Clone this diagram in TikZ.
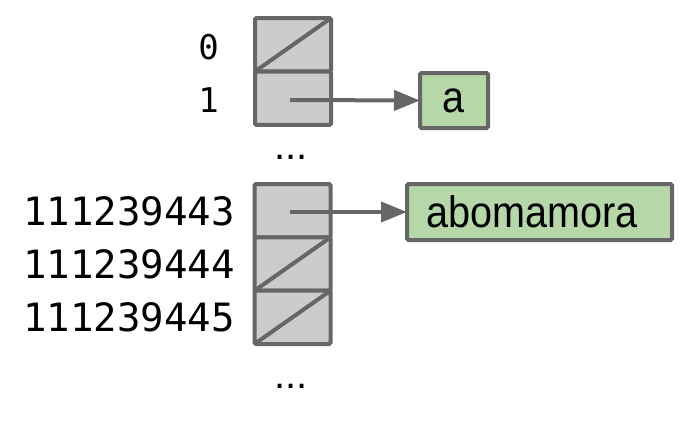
\documentclass[tikz,border=0pt]{standalone}
\usepackage{fontspec}
\setmainfont{Liberation Sans}
\newfontfamily\condsans[FakeStretch=0.9]{Liberation Sans}
\newfontfamily\monofont{DejaVu Sans Mono}
\usetikzlibrary{arrows.meta}
\definecolor{edgegray}{HTML}{666666}
\definecolor{cellgray}{HTML}{CCCCCC}
\definecolor{valgreen}{HTML}{B6D7A8}
\begin{document}
\begin{tikzpicture}[x=1pt,y=-1pt,
  cellbox/.style={draw=edgegray,fill=cellgray,line width=4pt,rounded corners=1.5pt,
    minimum width=76pt,minimum height=53.4pt,inner sep=0pt,outer sep=0pt},
  valbox/.style={draw=edgegray,fill=valgreen,line width=4pt,rounded corners=1.5pt,
    inner sep=0pt,outer sep=0pt,font=\condsans\fontsize{44}{52}\selectfont},
  nullslash/.style={draw=edgegray,line width=4pt},
  ptr/.style={draw=edgegray,line width=4pt,-{Triangle[length=26pt,width=20pt]}},
  smalllabel/.style={anchor=east,inner sep=0pt,font=\monofont\fontsize{34}{40}\selectfont},
  biglabel/.style={anchor=east,inner sep=0pt,font=\monofont\fontsize{39}{44}\selectfont},
  dots/.style={anchor=base,inner sep=0pt,font=\fontsize{40}{48}\selectfont}]
\useasboundingbox (0,0) rectangle (698,420);
% top column
\node[cellbox] (c0) at (293,44.75) {};
\node[cellbox] (c1) at (293,98.25) {};
\draw[nullslash] (c0.south west) -- (c0.north east);
% bottom column
\node[cellbox] (d0) at (292.5,210.7) {};
\node[cellbox] (d1) at (292.5,264) {};
\node[cellbox] (d2) at (292.5,317.3) {};
\draw[nullslash] (d1.south west) -- (d1.north east);
\draw[nullslash] (d2.south west) -- (d2.north east);
% labels
\node[smalllabel] (l0) at (219,47) {0};
\node[smalllabel] (l1) at (219,100) {1};
\node[biglabel] (l2) at (235,211) {111239443};
\node[biglabel] (l3) at (235,264) {111239444};
\node[biglabel] (l4) at (235,317) {111239445};
% dots
\node[dots] (dt0) at (291,159.5) {...};
\node[dots] (dt1) at (291,388.5) {...};
% values
\node[valbox,minimum width=68pt,minimum height=55pt] (va) at (454,100.5) {a};
\node[valbox,minimum width=265pt,minimum height=56pt,text width=255pt,align=left] (vb) at (539.5,212) {\hspace*{14pt}abomamora};
% pointers
\coordinate (p1) at (290,100);
\coordinate (p2) at (290,212);
\draw[ptr] (p1) -- (va.west);
\draw[ptr] (p2) -- (vb.west);
\end{tikzpicture}
\end{document}
